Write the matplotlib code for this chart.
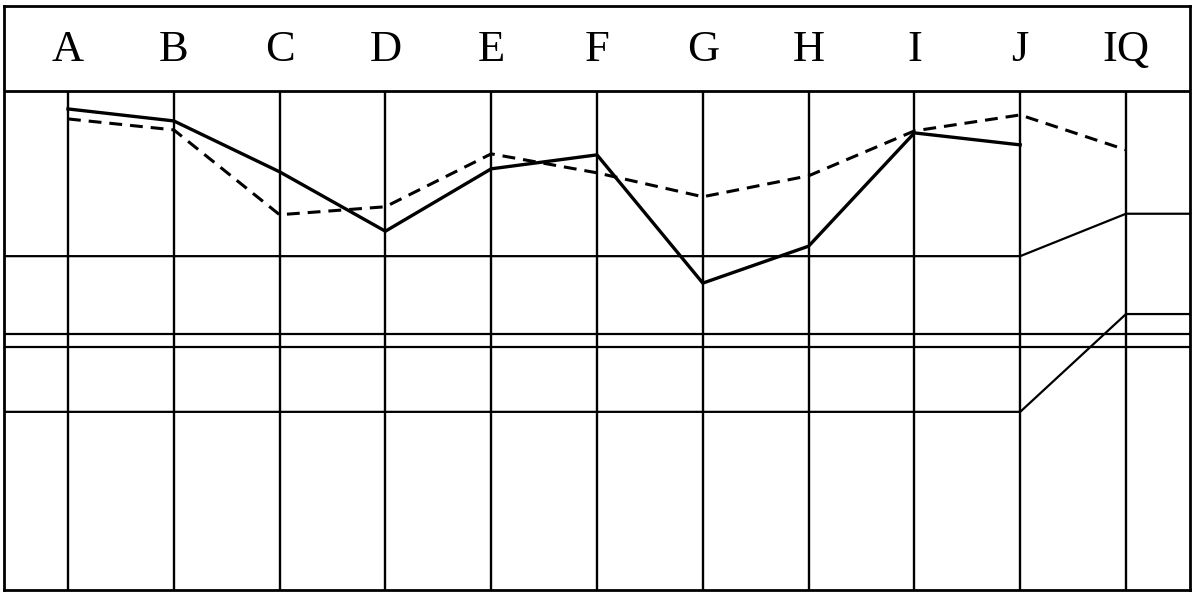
import matplotlib.pyplot as plt
import numpy as np


labels = ["A", "B", "C", "D", "E", "F", "G", "H", "I", "J", "IQ"]

# profile values (0-100 body scale), IQ has no solid point
solid = [96.4, 94.0, 83.8, 71.9, 84.4, 87.2, 61.5, 68.9, 91.6, 89.2]
dashed = [94.4, 92.2, 75.2, 76.8, 87.4, 83.6, 78.8, 83.0, 92.0, 95.2, 88.2]

# reference levels at every category
upper_ref = [66.9] * 10 + [75.4]
band_top = [51.3] * 11
band_bottom = [48.7] * 11
lower_ref = [35.7] * 10 + [55.3]

x = np.arange(len(labels))
x_lo, x_hi = -0.605, 10.605
body_top = 100
y_top = 117.03

fig = plt.figure(figsize=(11.92, 5.93), dpi=100)
ax = fig.add_axes([4 / 1192, 3 / 593, 1186 / 1192, 584 / 593])
ax.set_xlim(x_lo, x_hi)
ax.set_ylim(0, y_top)
ax.set_xticks([])
ax.set_yticks([])
for s in ax.spines.values():
    s.set_linewidth(2.0)

# header
ax.axhline(body_top, color="black", lw=2.0)
for xi, lab in zip(x, labels):
    ax.text(xi, (body_top + y_top) / 2 - 0.4, lab, ha="center", va="center",
            fontsize=32, family="Liberation Serif")

# grid columns
ax.vlines(x, 0, body_top, color="black", lw=1.7)

# reference lines, held flat to the edges
for ref in [upper_ref, band_top, band_bottom, lower_ref]:
    xs = np.concatenate([[x_lo], x, [x_hi]])
    ys = np.concatenate([[ref[0]], ref, [ref[-1]]])
    ax.plot(xs, ys, color="black", lw=1.6)

ax.plot(x[:len(solid)], solid, color="black", lw=2.4)
ax.plot(x, dashed, color="black", lw=2.2, dashes=(4.2, 2.6))

fig.savefig("out.png", dpi=100)
